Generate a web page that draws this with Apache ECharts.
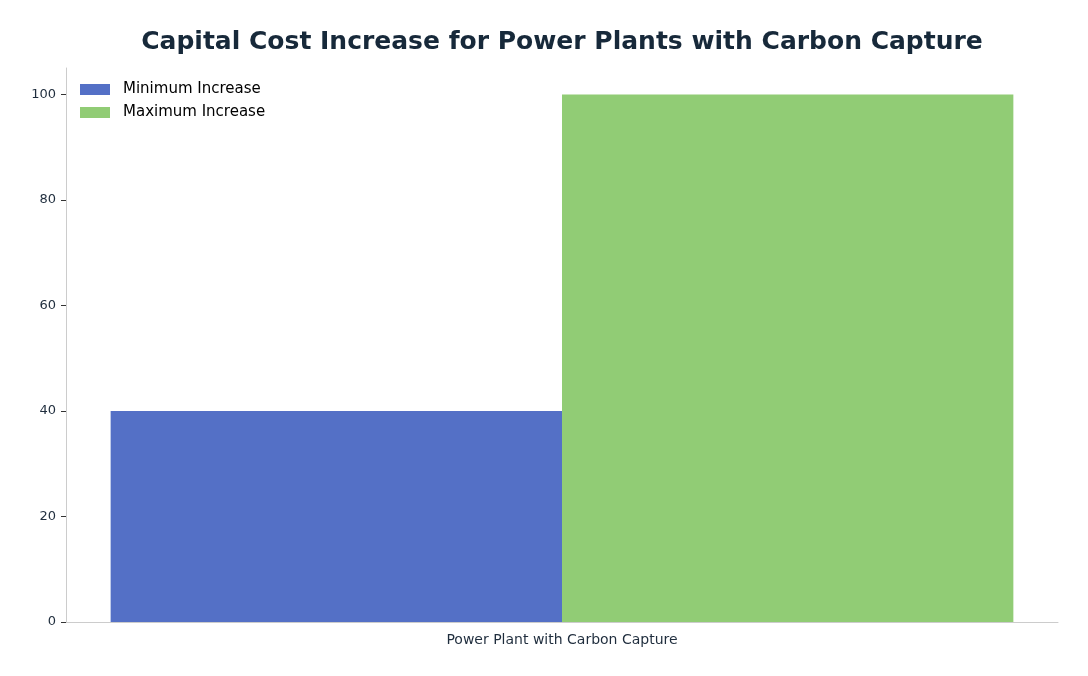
<!DOCTYPE html>
<html>
<head>
<meta charset="utf-8">
<script src="https://cdn.jsdelivr.net/npm/echarts@6/dist/echarts.min.js"></script>
<style>
  html, body { margin: 0; padding: 0; background: #fff; }
  #chart { width: 1088px; height: 676px; }
</style>
</head>
<body>
<div id="chart"></div>
<script>
const categories = ['Power Plant with Carbon Capture'];
const minIncrease = [40];
const maxIncrease = [100];
const yTicks = [0, 20, 40, 60, 80, 100];

const chart = echarts.init(document.getElementById('chart'));
const font = 'DejaVu Sans';

chart.setOption({
    animation: false,
    backgroundColor: '#ffffff',
    color: ['#5470c6', '#91cc75'],
    title: {
        text: 'Capital Cost Increase for Power Plants with Carbon Capture',
        left: 557,
        textAlign: 'center',
        top: 25,
        textStyle: { fontFamily: font, fontSize: 25, fontWeight: 'bold', color: '#17293a' }
    },
    legend: {
        orient: 'vertical',
        left: 75,
        top: 77,
        itemWidth: 30,
        itemHeight: 11,
        itemGap: 8,
        icon: 'rect',
        textStyle: { fontFamily: font, fontSize: 15, color: '#000', padding: [0, 0, 0, 8] }
    },
    grid: { left: 66, right: 30, top: 68, bottom: 54 },
    xAxis: {
        type: 'category',
        data: categories,
        axisLine: { lineStyle: { color: '#cccccc' } },
        axisTick: { alignWithLabel: true, length: 5, lineStyle: { color: '#333' } },
        axisLabel: { fontFamily: font, fontSize: 14, color: '#1f2d3d', margin: 11 }
    },
    yAxis: {
        type: 'value',
        min: 0,
        max: 105,
        interval: 20,
        axisLine: { show: true, lineStyle: { color: '#cccccc' } },
        axisTick: { show: true, length: 5, lineStyle: { color: '#333' }, customValues: yTicks },
        splitLine: { show: false },
        axisLabel: {
            fontFamily: font, fontSize: 13, color: '#1f2d3d', margin: 10,
            customValues: yTicks
        }
    },
    series: [
        { name: 'Minimum Increase', type: 'bar', data: minIncrease, barGap: '0%', barCategoryGap: '9%' },
        { name: 'Maximum Increase', type: 'bar', data: maxIncrease, barGap: '0%', barCategoryGap: '9%' }
    ]
});
</script>
</body>
</html>
